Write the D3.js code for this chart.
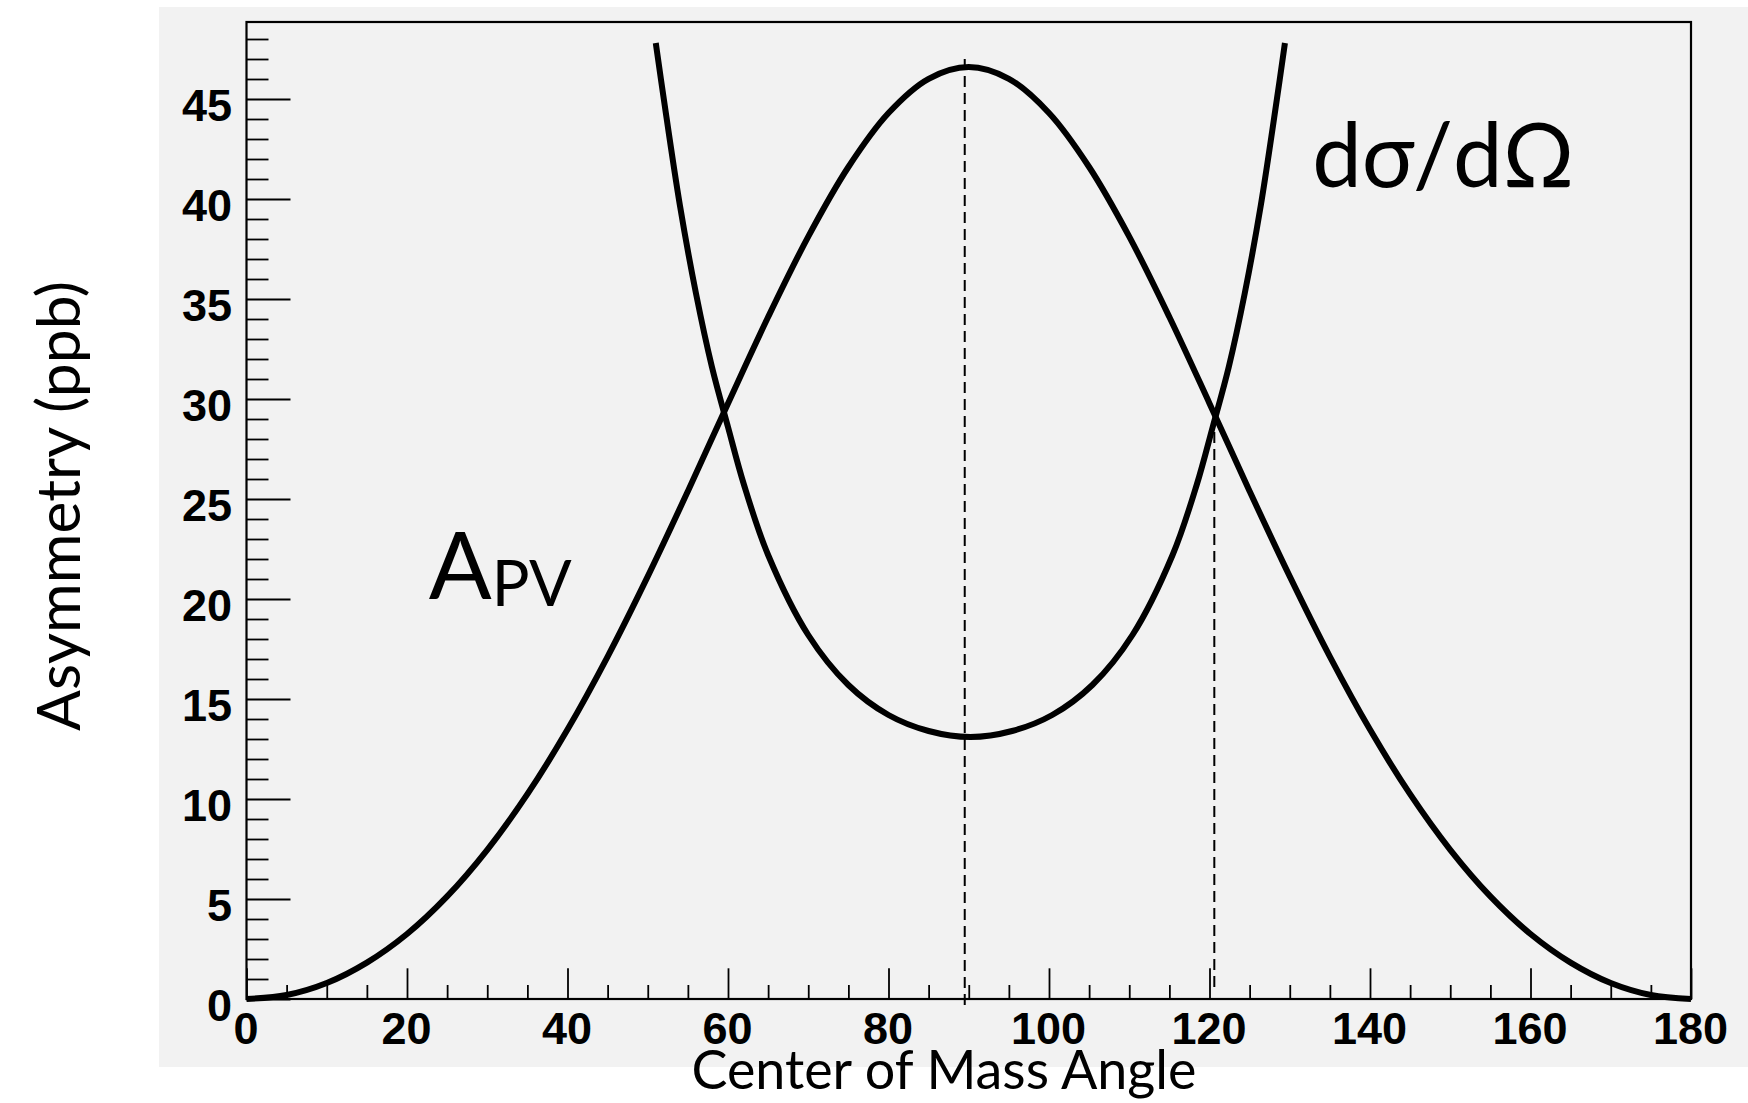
<!DOCTYPE html>
<html><head><meta charset="utf-8">
<script src="https://cdn.jsdelivr.net/npm/d3@7"></script>
<style>body{margin:0;background:#fff}</style>
</head><body>
<svg id="chart" width="1748" height="1103"></svg>
<script>
// ---------- data ----------
const xMajorTicks = [0, 20, 40, 60, 80, 100, 120, 140, 160, 180];
const xTickLabels = ["0", "20", "40", "60", "80", "100", "120", "140", "160", "180"];
const yMajorTicks = [0, 5, 10, 15, 20, 25, 30, 35, 40, 45];
const yTickLabels = ["0", "5", "10", "15", "20", "25", "30", "35", "40", "45"];

// A_PV curve (ppb) vs centre-of-mass angle (deg)
const apvAngle = [0, 5, 10, 15, 20, 25, 30, 35, 40, 45, 50, 55, 60, 65, 70, 75, 80, 85, 90,
                  95, 100, 105, 110, 115, 120, 125, 130, 135, 140, 145, 150, 155, 160, 165, 170, 175, 180];
const apvValue = [0, 0.2, 0.8, 1.82, 3.25, 5.13, 7.46, 10.24, 13.47, 17.12, 21.13, 25.39, 29.78, 34.1, 38.12, 41.6, 44.3, 46.01, 46.6,
                  46.01, 44.3, 41.6, 38.12, 34.1, 29.78, 25.39, 21.13, 17.12, 13.47, 10.24, 7.46, 5.13, 3.25, 1.82, 0.8, 0.2, 0];

// dσ/dΩ curve (arbitrary scale, drawn on same axis)
const xsAngle = [51, 52, 54, 56, 58, 60, 62, 65, 70, 75, 80, 85, 90.2,
                 95.4, 100.4, 105.4, 110.4, 115.4, 118.4, 120.4, 122.4, 124.4, 126.4, 128.4, 129.4];
const xsValue = [47.8, 45.0, 39.7, 35.3, 31.6, 28.6, 25.7, 22.2, 18.2, 15.7, 14.2, 13.4, 13.1,
                 13.4, 14.2, 15.7, 18.2, 22.2, 25.7, 28.6, 31.6, 35.3, 39.7, 45.0, 47.8];

// dashed marker lines
const markerAngle = [89.5, 120.6];
const markerTop = [47.0, 29.2];
const markerBottom = [-0.55, 0.55];

// ---------- layout ----------
const W = 1748, H = 1103;
const svg = d3.select("#chart");
const pL = 246.5, pR = 1691, pT = 22, pB = 999;
const x = d3.scaleLinear().domain([0, 180]).range([pL, pR]);
const y = d3.scaleLinear().domain([0, 48.85]).range([pB, pT]);

svg.append("rect").attr("x", 0).attr("y", 0).attr("width", W).attr("height", H).attr("fill", "#fff");
svg.append("rect").attr("x", 159).attr("y", 7).attr("width", W - 159).attr("height", 1067 - 7).attr("fill", "#f2f2f2");

const tickFont = "'Liberation Sans', Arial, Helvetica, sans-serif";
const xMinor = d3.range(0, 181, 5).filter(v => v % 20 !== 0);
const yMinor = d3.range(0, 49, 1).filter(v => v % 5 !== 0);

// x axis
const gx = svg.append("g").attr("transform", `translate(0,${pB})`);
gx.call(d3.axisBottom(x).tickValues(xMajorTicks).tickSize(-30.7).tickSizeOuter(0).tickPadding(13)
  .tickFormat((d, i) => xTickLabels[i]));
const gxm = svg.append("g").attr("transform", `translate(0,${pB})`);
gxm.call(d3.axisBottom(x).tickValues(xMinor).tickSize(-14).tickSizeOuter(0).tickFormat(""));

// y axis
const gy = svg.append("g").attr("transform", `translate(${pL},0)`);
gy.call(d3.axisLeft(y).tickValues(yMajorTicks).tickSize(-44).tickSizeOuter(0).tickPadding(14.5)
  .tickFormat((d, i) => yTickLabels[i]));
const gym = svg.append("g").attr("transform", `translate(${pL},0)`);
gym.call(d3.axisLeft(y).tickValues(yMinor).tickSize(-22).tickSizeOuter(0).tickFormat(""));

[gx, gxm, gy, gym].forEach(g => {
  g.select(".domain").remove();
  g.selectAll(".tick line").attr("stroke", "#000").attr("stroke-width", 1.8);
});
[gx, gy].forEach(g => g.selectAll(".tick text")
  .attr("fill", "#000").style("font-family", tickFont).style("font-weight", "bold").style("font-size", "45px"));
gx.selectAll(".tick text").attr("dy", "0.71em").attr("x", -1);
gy.selectAll(".tick text").attr("dy", "0.48em");

// frame
svg.append("rect").attr("x", pL).attr("y", pT).attr("width", pR - pL).attr("height", pB - pT)
  .attr("fill", "none").attr("stroke", "#000").attr("stroke-width", 2.2);

// dashed markers
svg.append("g").selectAll("line").data(markerAngle).join("line")
  .attr("x1", d => x(d)).attr("x2", d => x(d))
  .attr("y1", (d, i) => y(markerTop[i])).attr("y2", (d, i) => y(markerBottom[i]))
  .attr("stroke", "#000").attr("stroke-width", 2).attr("stroke-dasharray", "11,6");

// curves
const line = d3.line().curve(d3.curveCatmullRom.alpha(0.5));
svg.append("path").attr("d", line(apvAngle.map((a, i) => [x(a), y(apvValue[i])])))
  .attr("fill", "none").attr("stroke", "#000").attr("stroke-width", 6).attr("stroke-linejoin", "round");
svg.append("path").attr("d", line(xsAngle.map((a, i) => [x(a), y(xsValue[i])])))
  .attr("fill", "none").attr("stroke", "#000").attr("stroke-width", 6).attr("stroke-linejoin", "round");

// titles
const titleFont = "Lato, 'Open Sans', 'Noto Sans', sans-serif";
function fit(sel, target) {
  const w = sel.node().getComputedTextLength();
  const fs = parseFloat(sel.style("font-size"));
  sel.style("font-size", (fs * target / w) + "px");
}
const xt = svg.append("text").attr("x", 944).attr("y", 1089).attr("text-anchor", "middle")
  .style("font-family", titleFont).style("font-size", "54px").attr("fill", "#000").text("Center of Mass Angle");
fit(xt, 505);
const yt = svg.append("text").attr("transform", "translate(80,506) rotate(-90)").attr("text-anchor", "middle")
  .style("font-family", titleFont).style("font-size", "62px").attr("fill", "#000").text("Asymmetry (ppb)");
fit(yt, 450);

// curve annotations
const apvLab = svg.append("text").attr("x", x(22.7)).attr("y", y(20.0))
  .style("font-family", titleFont).style("font-size", "93px").attr("fill", "#000");
apvLab.append("tspan").text("A");
apvLab.append("tspan").attr("dy", 7).style("font-size", "63px").text("PV");

const xsLab = svg.append("text").attr("x", x(132.8)).attr("y", y(40.6))
  .style("font-family", titleFont).style("font-size", "94px").attr("fill", "#000").text("dσ/dΩ");
fit(xsLab, 262);
</script>
</body></html>
